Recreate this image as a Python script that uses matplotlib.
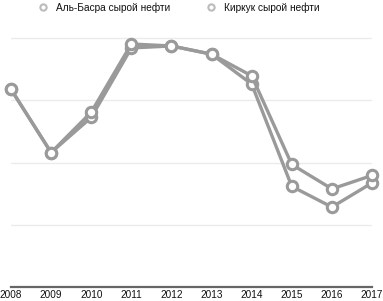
import matplotlib.pyplot as plt
from matplotlib.lines import Line2D

years = [2008, 2009, 2010, 2011, 2012, 2013, 2014, 2015, 2016, 2017]
basra = [79.4, 54.0, 70.2, 97.6, 96.8, 93.5, 84.8, 49.2, 39.4, 44.8]
kirkuk = [79.4, 54.0, 68.1, 96.0, 96.8, 93.5, 81.5, 40.4, 32.1, 41.8]
labels = ['Аль-Басра сырой нефти', 'Киркук сырой нефти']

W, H = 383, 301
fig = plt.figure(figsize=(W / 100, H / 100), dpi=100)
ax = fig.add_axes([11 / W, 14 / H, 361 / W, 257 / H])

gray = '#9a9a9a'
for vals in (kirkuk, basra):
    ax.plot(years, vals, color=gray, lw=2.4, marker='o', ms=7.5,
            mfc='white', mec=gray, mew=2.2, zorder=3, clip_on=False)

ax.set_xlim(2008, 2017)
ax.set_ylim(0, 100 * 257 / 249)
ax.set_yticks([25, 50, 75, 100])
ax.yaxis.grid(True, color='#ebebeb', lw=1)
ax.tick_params(axis='y', length=0, labelleft=False)
ax.set_xticks(years)
ax.set_xticklabels([str(y) for y in years], fontsize=7.2, color='#111111',
                   fontfamily='Liberation Sans')
ax.tick_params(axis='x', length=0, pad=2.5)
for s in ['top', 'right', 'left']:
    ax.spines[s].set_visible(False)
ax.spines['bottom'].set_color('#666666')
ax.spines['bottom'].set_linewidth(1.6)
ax.set_axisbelow(True)

handles = [Line2D([], [], color='none', marker='o', ms=4.5, mfc='white',
                  mec='#bbbbbb', mew=1.5) for _ in labels]
fig.legend(handles, labels, loc='upper left', bbox_to_anchor=(37 / W, 1.0),
           ncol=2, frameon=False, handlelength=0.8,
           handletextpad=0.9, columnspacing=3.6, borderaxespad=0,
           borderpad=0.2, labelcolor='#111111',
           prop={'family': 'Liberation Sans', 'size': 7.3})

fig.savefig('out.png', dpi=100)
